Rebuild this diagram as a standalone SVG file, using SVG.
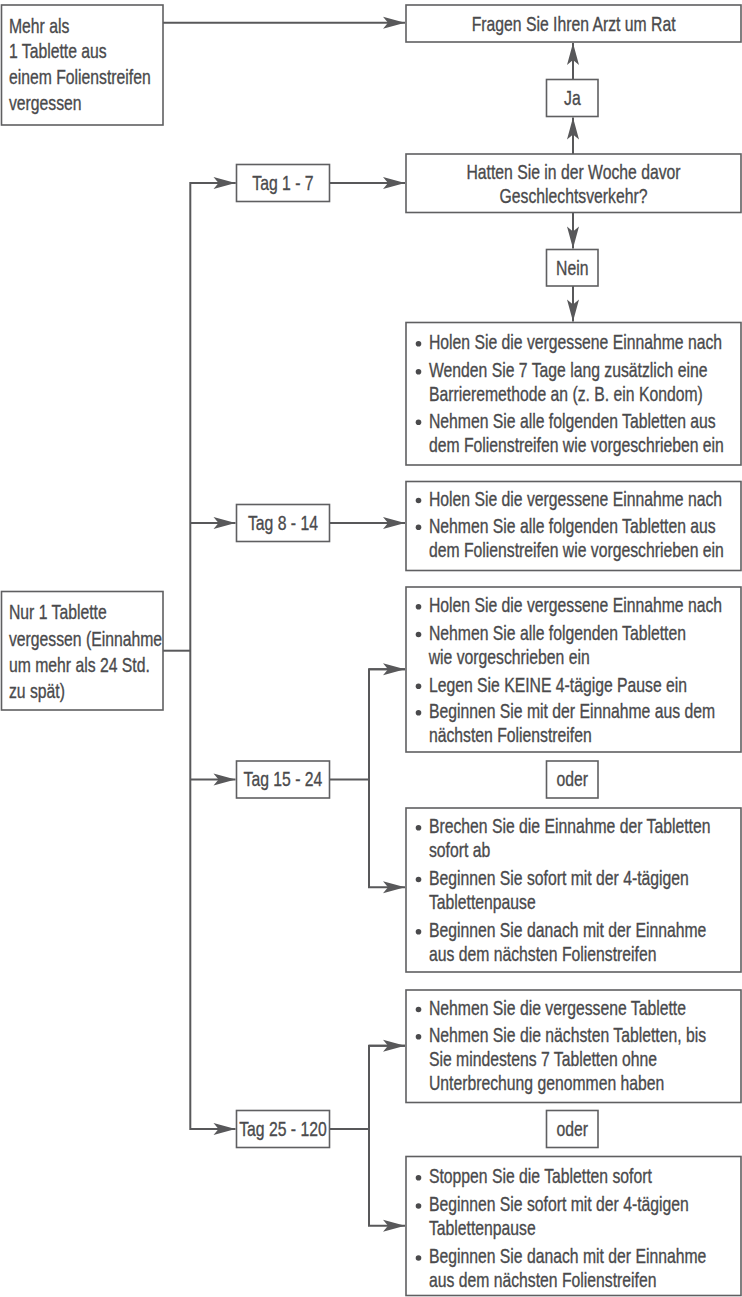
<svg xmlns="http://www.w3.org/2000/svg" width="742" height="1297" viewBox="0 0 742 1297">
<style>
.box{fill:#fff;stroke:#5f5f61;stroke-width:1.6}
.t{font-family:"Liberation Sans",Arial,sans-serif;font-size:21px;fill:#4a4a4c;stroke:#4a4a4c;stroke-width:0.35;transform-box:fill-box;transform-origin:0 0;transform:scaleX(0.75)}
.c{text-anchor:middle;transform-origin:50% 50%}
.b{fill:#4a4a4c}
.ln{fill:none;stroke:#58585a;stroke-width:2}
</style>
<defs>
<marker id="ah" markerUnits="userSpaceOnUse" markerWidth="24" markerHeight="14" viewBox="-23 -7 24 14" refX="0" refY="0" orient="auto">
<path d="M0,0 L-22,-6 L-17,0 L-22,6 Z" fill="#58585a"/>
</marker>
</defs>
<rect width="742" height="1297" fill="#fff"/>
<g id="connectors">
<path class="ln" d="M163,22.7 H405" marker-end="url(#ah)"/>
<path class="ln" d="M573,79.5 V43" marker-end="url(#ah)"/>
<path class="ln" d="M573,154 V117.5" marker-end="url(#ah)"/>
<path class="ln" d="M573,212.5 V248.5" marker-end="url(#ah)"/>
<path class="ln" d="M573,286 V321.5" marker-end="url(#ah)"/>
<path class="ln" d="M329.5,183 H405" marker-end="url(#ah)"/>
<path class="ln" d="M235.5,183 H190.3 V1129 H235.5" marker-end="url(#ah)"/>
<path class="ln" d="M190.3,183 H235.5" marker-end="url(#ah)"/>
<path class="ln" d="M190.3,523 H235.5" marker-end="url(#ah)"/>
<path class="ln" d="M190.3,779.5 H235.5" marker-end="url(#ah)"/>
<path class="ln" d="M163,650.7 H190.3"/>
<path class="ln" d="M329.5,523 H405" marker-end="url(#ah)"/>
<path class="ln" d="M329.5,779.5 H369"/>
<path class="ln" d="M405,669.3 H369 V887.3 H405" marker-end="url(#ah)"/>
<path class="ln" d="M369,669.3 H405" marker-end="url(#ah)"/>
<path class="ln" d="M329.5,1129 H369"/>
<path class="ln" d="M405,1045.7 H369 V1225.7 H405" marker-end="url(#ah)"/>
<path class="ln" d="M369,1045.7 H405" marker-end="url(#ah)"/>
</g>
<g id="mehr">
<rect class="box" x="1.5" y="5" width="161.5" height="120"/>
<text class="t" x="9" y="32.7">Mehr als</text>
<text class="t" x="9" y="58.5">1 Tablette aus</text>
<text class="t" x="9" y="84.5">einem Folienstreifen</text>
<text class="t" x="9" y="110.3">vergessen</text>
</g>
<g id="arzt">
<rect class="box" x="406" y="5" width="335" height="37"/>
<text class="t c" x="573.5" y="30.8">Fragen Sie Ihren Arzt um Rat</text>
</g>
<g id="ja">
<rect class="box" x="546.5" y="79.5" width="51.5" height="37"/>
<text class="t c" x="572.3" y="105.5">Ja</text>
</g>
<g id="frage">
<rect class="box" x="406" y="154" width="335" height="58.5"/>
<text class="t c" x="573.5" y="179.5">Hatten Sie in der Woche davor</text>
<text class="t c" x="573.5" y="203">Geschlechtsverkehr?</text>
</g>
<g id="tag1">
<rect class="box" x="236.5" y="164.5" width="93" height="37"/>
<text class="t c" x="283" y="190.3">Tag 1 - 7</text>
</g>
<g id="nein">
<rect class="box" x="546.5" y="249.5" width="51.5" height="36.5"/>
<text class="t c" x="572.3" y="275">Nein</text>
</g>
<g id="box1">
<rect class="box" x="406" y="322.5" width="335" height="142.5"/>
<circle class="b" cx="418.5" cy="343.8" r="2.8"/>
<text class="t" x="429" y="349.3">Holen Sie die vergessene Einnahme nach</text>
<circle class="b" cx="418.5" cy="371.8" r="2.8"/>
<text class="t" x="429" y="377.3">Wenden Sie 7 Tage lang zusätzlich eine</text>
<text class="t" x="429" y="401">Barrieremethode an (z. B. ein Kondom)</text>
<circle class="b" cx="418.5" cy="422.2" r="2.8"/>
<text class="t" x="429" y="427.7">Nehmen Sie alle folgenden Tabletten aus</text>
<text class="t" x="429" y="452.3">dem Folienstreifen wie vorgeschrieben ein</text>
</g>
<g id="tag8">
<rect class="box" x="236.5" y="504.5" width="93" height="37"/>
<text class="t c" x="283" y="530">Tag 8 - 14</text>
</g>
<g id="box2">
<rect class="box" x="406" y="481.5" width="335" height="89"/>
<circle class="b" cx="418.5" cy="500.5" r="2.8"/>
<text class="t" x="429" y="506">Holen Sie die vergessene Einnahme nach</text>
<circle class="b" cx="418.5" cy="527.2" r="2.8"/>
<text class="t" x="429" y="532.7">Nehmen Sie alle folgenden Tabletten aus</text>
<text class="t" x="429" y="557.3">dem Folienstreifen wie vorgeschrieben ein</text>
</g>
<g id="nur1">
<rect class="box" x="1.5" y="591.5" width="161.5" height="118.5"/>
<text class="t" x="9" y="619">Nur 1 Tablette</text>
<text class="t" x="9" y="646">vergessen (Einnahme</text>
<text class="t" x="9" y="672">um mehr als 24 Std.</text>
<text class="t" x="9" y="698.5">zu spät)</text>
</g>
<g id="box3">
<rect class="box" x="406" y="587" width="335" height="165"/>
<circle class="b" cx="418.5" cy="606.8" r="2.8"/>
<text class="t" x="429" y="612.3">Holen Sie die vergessene Einnahme nach</text>
<circle class="b" cx="418.5" cy="634.5" r="2.8"/>
<text class="t" x="429" y="640">Nehmen Sie alle folgenden Tabletten</text>
<text class="t" x="429" y="664">wie vorgeschrieben ein</text>
<circle class="b" cx="418.5" cy="686.2" r="2.8"/>
<text class="t" x="429" y="691.7">Legen Sie KEINE 4-tägige Pause ein</text>
<circle class="b" cx="418.5" cy="712.8" r="2.8"/>
<text class="t" x="429" y="718.3">Beginnen Sie mit der Einnahme aus dem</text>
<text class="t" x="429" y="742.3">nächsten Folienstreifen</text>
</g>
<g id="tag15">
<rect class="box" x="236.5" y="761" width="93" height="37"/>
<text class="t c" x="283" y="786.5">Tag 15 - 24</text>
</g>
<g id="oder1">
<rect class="box" x="546.5" y="761" width="51.5" height="37"/>
<text class="t c" x="572.3" y="786.5">oder</text>
</g>
<g id="box4">
<rect class="box" x="406" y="808" width="335" height="164"/>
<circle class="b" cx="418.5" cy="827.8" r="2.8"/>
<text class="t" x="429" y="833.3">Brechen Sie die Einnahme der Tabletten</text>
<text class="t" x="429" y="857.3">sofort ab</text>
<circle class="b" cx="418.5" cy="879.5" r="2.8"/>
<text class="t" x="429" y="885">Beginnen Sie sofort mit der 4-tägigen</text>
<text class="t" x="429" y="909.3">Tablettenpause</text>
<circle class="b" cx="418.5" cy="931.8" r="2.8"/>
<text class="t" x="429" y="937.3">Beginnen Sie danach mit der Einnahme</text>
<text class="t" x="429" y="961">aus dem nächsten Folienstreifen</text>
</g>
<g id="box5">
<rect class="box" x="406" y="990" width="335" height="112.5"/>
<circle class="b" cx="418.5" cy="1009.5" r="2.8"/>
<text class="t" x="429" y="1015">Nehmen Sie die vergessene Tablette</text>
<circle class="b" cx="418.5" cy="1036.8" r="2.8"/>
<text class="t" x="429" y="1042.3">Nehmen Sie die nächsten Tabletten, bis</text>
<text class="t" x="429" y="1065.7">Sie mindestens 7 Tabletten ohne</text>
<text class="t" x="429" y="1090">Unterbrechung genommen haben</text>
</g>
<g id="tag25">
<rect class="box" x="236.5" y="1110.5" width="93" height="37"/>
<text class="t c" x="283" y="1136">Tag 25 - 120</text>
</g>
<g id="oder2">
<rect class="box" x="546.5" y="1110.5" width="51.5" height="37"/>
<text class="t c" x="572.3" y="1136">oder</text>
</g>
<g id="box6">
<rect class="box" x="406" y="1156.5" width="335" height="139"/>
<circle class="b" cx="418.5" cy="1177.8" r="2.8"/>
<text class="t" x="429" y="1183.3">Stoppen Sie die Tabletten sofort</text>
<circle class="b" cx="418.5" cy="1206" r="2.8"/>
<text class="t" x="429" y="1211.5">Beginnen Sie sofort mit der 4-tägigen</text>
<text class="t" x="429" y="1235">Tablettenpause</text>
<circle class="b" cx="418.5" cy="1258" r="2.8"/>
<text class="t" x="429" y="1263.5">Beginnen Sie danach mit der Einnahme</text>
<text class="t" x="429" y="1287">aus dem nächsten Folienstreifen</text>
</g>
</svg>
